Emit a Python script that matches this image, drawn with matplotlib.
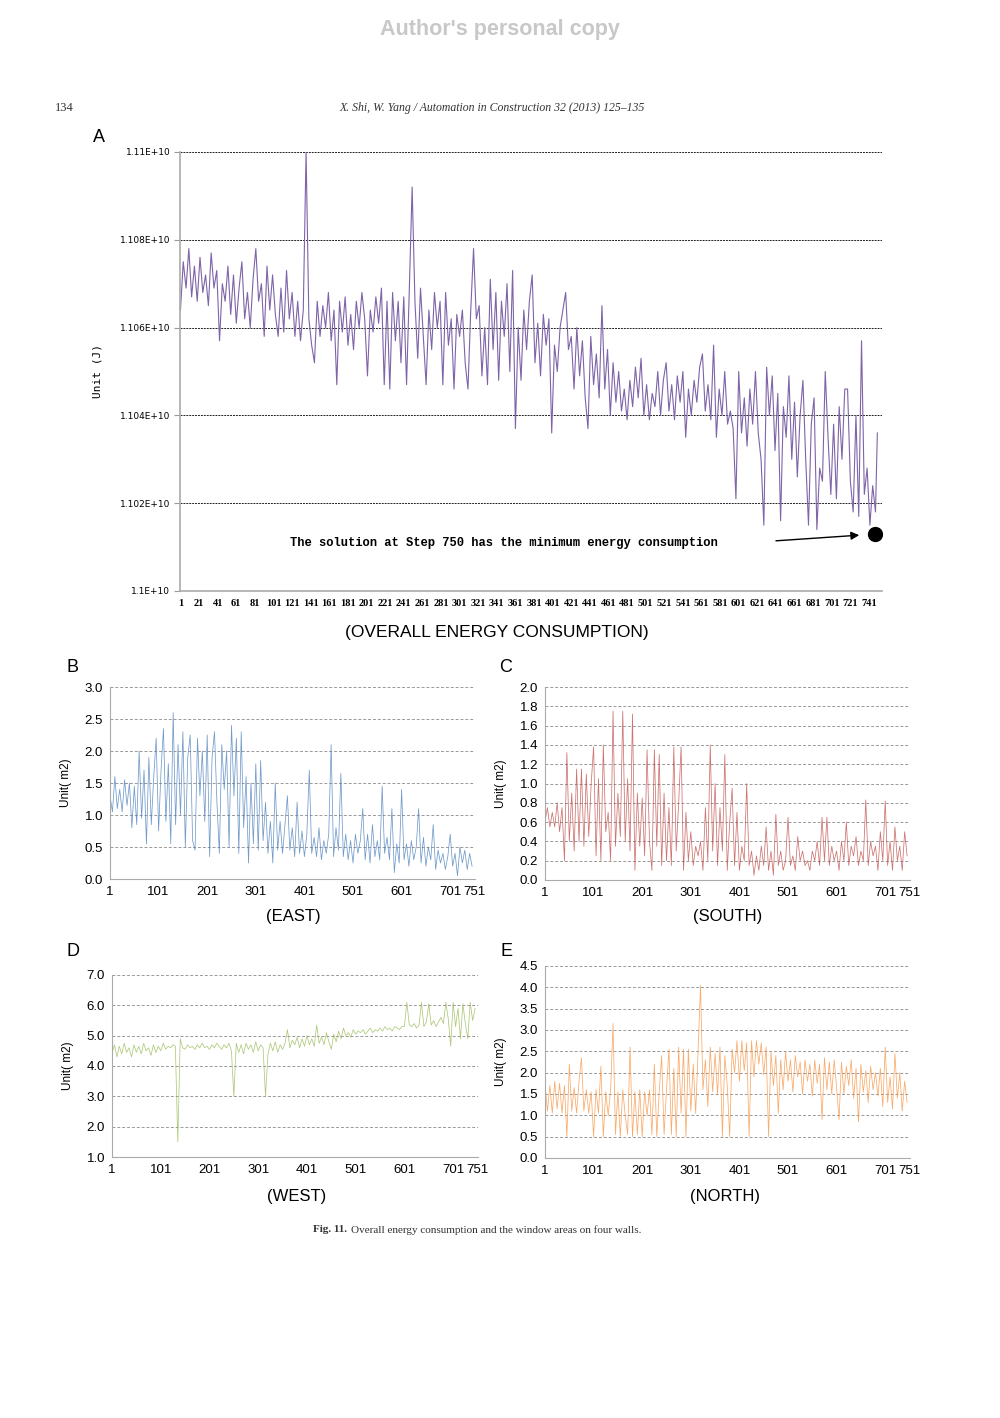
import matplotlib
matplotlib.use("Agg")
import matplotlib.pyplot as plt
import numpy as np
from matplotlib.ticker import FormatStrFormatter, FixedLocator

# ---- data ----
# overall energy consumption, in units of 1E+10 J, every 3rd step + step 750
energy_steps = list(range(1, 749, 3)) + [750]
energy = [
    1.1064, 1.1075, 1.1069, 1.1078, 1.1067, 1.1074, 1.1066, 1.1076, 1.1068, 1.1072, 1.1065, 1.1077, 1.1069, 1.1073,
    1.1057, 1.1070, 1.1066, 1.1074, 1.1063, 1.1072, 1.1061, 1.1069, 1.1075, 1.1062, 1.1068, 1.1060, 1.1071,
    1.1078, 1.1066, 1.1070, 1.1058, 1.1074, 1.1064, 1.1072, 1.1063, 1.1058, 1.1069, 1.1059, 1.1073, 1.1062,
    1.1068, 1.1058, 1.1066, 1.1057, 1.1064, 1.1100, 1.1062, 1.1056, 1.1052, 1.1066, 1.1058, 1.1065, 1.1060,
    1.1068, 1.1057, 1.1064, 1.1047, 1.1066, 1.1059, 1.1067, 1.1056, 1.1063, 1.1055, 1.1066, 1.1060, 1.1068,
    1.1062, 1.1049, 1.1064, 1.1059, 1.1067, 1.1061, 1.1069, 1.1047, 1.1066, 1.1046, 1.1068, 1.1057, 1.1066,
    1.1052, 1.1067, 1.1047, 1.1069, 1.1092, 1.1066, 1.1053, 1.1069, 1.1058, 1.1047, 1.1064, 1.1055, 1.1068,
    1.1060, 1.1066, 1.1047, 1.1068, 1.1056, 1.1062, 1.1046, 1.1063, 1.1058, 1.1064, 1.1052, 1.1046, 1.1064,
    1.1078, 1.1062, 1.1065, 1.1049, 1.1060, 1.1047, 1.1071, 1.1055, 1.1068, 1.1048, 1.1066, 1.1058, 1.1070,
    1.1050, 1.1073, 1.1037, 1.1060, 1.1048, 1.1064, 1.1055, 1.1066, 1.1072, 1.1052, 1.1061, 1.1049, 1.1063,
    1.1056, 1.1062, 1.1036, 1.1056, 1.1050, 1.1060, 1.1064, 1.1068, 1.1055, 1.1058, 1.1046, 1.1060, 1.1049,
    1.1057, 1.1044, 1.1037, 1.1058, 1.1047, 1.1054, 1.1044, 1.1065, 1.1046, 1.1055, 1.1040, 1.1052, 1.1043,
    1.1050, 1.1041, 1.1046, 1.1039, 1.1048, 1.1042, 1.1051, 1.1044, 1.1053, 1.1040, 1.1047, 1.1039, 1.1045,
    1.1042, 1.1050, 1.1040, 1.1048, 1.1052, 1.1041, 1.1047, 1.1039, 1.1049, 1.1043, 1.1050, 1.1035, 1.1046,
    1.1040, 1.1048, 1.1043, 1.1051, 1.1054, 1.1041, 1.1047, 1.1039, 1.1056, 1.1035, 1.1046, 1.1040, 1.1050,
    1.1038, 1.1041, 1.1037, 1.1021, 1.1050, 1.1036, 1.1044, 1.1033, 1.1046, 1.1038, 1.1050, 1.1036, 1.1030,
    1.1015, 1.1051, 1.1040, 1.1049, 1.1032, 1.1045, 1.1016, 1.1042, 1.1035, 1.1049, 1.1030, 1.1043, 1.1026,
    1.1040, 1.1048, 1.1030, 1.1015, 1.1038, 1.1044, 1.1014, 1.1028, 1.1025, 1.1050, 1.1035, 1.1022, 1.1038,
    1.1021, 1.1042, 1.1030, 1.1046, 1.1046, 1.1025, 1.1018, 1.1040, 1.1017, 1.1057, 1.1022, 1.1028, 1.1015,
    1.1024, 1.1018, 1.1036,
]
min_step = 747
min_energy = 1.1013

# window areas (m2), every 5th step
wall_steps = list(range(1, 750, 5))
east = [
    1.30, 1.05, 1.60, 1.10, 1.40, 1.05, 1.55, 1.15, 1.50, 0.80,
    1.45, 0.85, 2.00, 0.95, 1.70, 0.55, 1.90, 0.85, 1.60, 2.20,
    0.75, 1.70, 2.35, 0.90, 1.80, 0.55, 2.60, 0.85, 2.10, 1.00,
    2.30, 0.50, 1.90, 2.25, 0.60, 0.45, 2.20, 1.30, 2.00, 0.90,
    2.25, 0.35, 1.90, 2.30, 1.20, 0.40, 2.10, 1.40, 2.00, 0.50,
    2.40, 1.30, 2.20, 0.40, 2.30, 0.80, 1.60, 0.25, 1.50, 0.55,
    1.80, 0.45, 1.85, 0.60, 1.20, 0.40, 0.90, 0.25, 1.50, 0.45,
    0.90, 0.40, 0.85, 1.30, 0.45, 0.80, 0.35, 1.20, 0.40, 0.75,
    0.35, 0.70, 1.70, 0.40, 0.65, 0.35, 0.80, 0.30, 0.60, 0.40,
    0.70, 2.10, 0.35, 0.80, 0.45, 1.65, 0.35, 0.70, 0.30, 0.60,
    0.25, 0.70, 0.40, 0.60, 1.10, 0.30, 0.70, 0.25, 0.85, 0.35,
    0.60, 0.30, 1.45, 0.40, 0.65, 0.30, 1.10, 0.10, 0.55, 0.25,
    1.40, 0.30, 0.55, 0.20, 0.60, 0.30, 0.50, 1.10, 0.25, 0.65,
    0.20, 0.50, 0.30, 0.85, 0.15, 0.45, 0.25, 0.40, 0.15, 0.35,
    0.70, 0.20, 0.40, 0.05, 0.50, 0.25, 0.45, 0.15, 0.40, 0.20,
]
south = [
    0.60, 0.75, 0.55, 0.70, 0.55, 0.80, 0.50, 0.75, 0.20, 1.32,
    0.40, 0.90, 0.30, 1.15, 0.40, 1.15, 0.35, 1.10, 0.45, 1.00,
    1.38, 0.25, 1.05, 0.20, 1.40, 0.50, 0.70, 0.20, 1.75, 0.35,
    0.90, 0.45, 1.75, 0.40, 1.05, 0.30, 1.72, 0.10, 0.90, 0.35,
    0.85, 0.25, 1.35, 0.40, 0.10, 1.35, 0.35, 1.30, 0.15, 0.90,
    0.20, 0.75, 0.15, 1.38, 0.30, 0.80, 1.38, 0.10, 0.70, 0.20,
    0.50, 0.15, 0.35, 0.25, 0.40, 0.10, 0.75, 0.20, 1.40, 0.30,
    1.00, 0.15, 0.75, 0.30, 1.30, 0.10, 0.60, 0.95, 0.15, 0.70,
    0.10, 0.35, 0.20, 1.00, 0.15, 0.30, 0.05, 0.25, 0.10, 0.35,
    0.15, 0.55, 0.10, 0.30, 0.05, 0.68, 0.15, 0.30, 0.10, 0.20,
    0.65, 0.15, 0.25, 0.10, 0.45, 0.20, 0.30, 0.15, 0.20, 0.10,
    0.30, 0.20, 0.40, 0.15, 0.65, 0.20, 0.65, 0.15, 0.35, 0.20,
    0.30, 0.10, 0.40, 0.20, 0.60, 0.15, 0.35, 0.25, 0.45, 0.15,
    0.30, 0.20, 0.83, 0.15, 0.40, 0.25, 0.35, 0.10, 0.50, 0.20,
    0.82, 0.15, 0.40, 0.10, 0.55, 0.20, 0.35, 0.10, 0.50, 0.25,
]
west = [
    4.40, 4.70, 4.30, 4.65, 4.40, 4.75, 4.45, 4.60, 4.30, 4.70,
    4.45, 4.65, 4.40, 4.75, 4.50, 4.60, 4.35, 4.70, 4.45, 4.65,
    4.50, 4.75, 4.55, 4.65, 4.60, 4.70, 4.65, 1.50, 4.90, 4.60,
    4.55, 4.70, 4.60, 4.65, 4.55, 4.70, 4.60, 4.75, 4.60, 4.65,
    4.55, 4.70, 4.60, 4.75, 4.65, 4.55, 4.70, 4.60, 4.75, 4.50,
    3.00, 4.75, 4.45, 4.70, 4.40, 4.75, 4.55, 4.70, 4.45, 4.80,
    4.50, 4.70, 4.60, 3.00, 4.40, 4.75, 4.50, 4.80, 4.45, 4.70,
    4.55, 4.75, 5.20, 4.60, 4.85, 4.70, 4.95, 4.60, 4.90, 4.65,
    5.00, 4.70, 4.90, 4.65, 5.35, 4.75, 4.95, 4.70, 5.10, 4.80,
    4.55, 5.05, 4.80, 5.15, 4.90, 5.25, 5.00, 5.10, 4.95, 5.20,
    5.05, 5.15, 5.10, 5.20, 5.05, 5.15, 5.25, 5.10, 5.20, 5.15,
    5.25, 5.15, 5.30, 5.20, 5.25, 5.15, 5.30, 5.25, 5.20, 5.30,
    5.30, 6.10, 5.35, 5.30, 5.40, 5.25, 5.35, 6.10, 5.30, 5.45,
    6.05, 5.35, 5.50, 5.30, 5.45, 5.60, 5.40, 6.10, 5.55, 4.65,
    6.10, 5.30, 5.90, 4.90, 6.05, 5.40, 4.90, 6.10, 5.50, 5.90,
]
north = [
    1.75, 1.10, 1.70, 1.05, 1.80, 1.15, 1.75, 1.05, 1.70, 0.50,
    2.20, 1.10, 1.65, 1.05, 1.80, 2.35, 1.10, 1.60, 1.05, 1.55,
    0.50, 1.60, 1.05, 2.15, 0.50, 1.55, 1.00, 1.60, 3.15, 0.55,
    1.55, 0.50, 1.60, 1.00, 0.55, 2.60, 0.50, 1.55, 0.55, 1.60,
    0.50, 1.55, 1.00, 1.60, 0.55, 2.20, 0.50, 1.55, 2.40, 0.55,
    1.60, 2.55, 0.55, 2.10, 0.50, 2.60, 1.05, 2.55, 0.50, 2.55,
    1.10, 2.20, 1.05, 2.50, 4.05, 1.60, 2.30, 1.20, 2.60, 1.55,
    2.45, 1.50, 2.60, 0.50, 2.40, 1.70, 0.50, 2.55, 2.00, 2.75,
    1.80, 2.75, 2.05, 2.70, 0.50, 2.75, 1.90, 2.75, 2.20, 2.70,
    1.95, 2.60, 0.50, 2.50, 1.70, 2.40, 1.05, 2.30, 1.60, 2.50,
    1.80, 2.30, 1.55, 2.40, 1.90, 2.25, 1.50, 2.30, 1.80, 2.20,
    1.45, 2.30, 1.75, 2.20, 0.90, 2.35, 1.60, 2.25, 1.50, 2.30,
    1.65, 0.90, 2.25, 1.50, 2.15, 1.70, 2.30, 1.40, 2.10, 0.85,
    2.20, 1.55, 2.05, 1.30, 2.15, 1.60, 2.00, 1.45, 2.10, 1.20,
    2.60, 1.30, 1.90, 1.15, 2.45, 1.40, 2.00, 1.10, 1.80, 1.30,
]

energy_yticks = [1.100, 1.102, 1.104, 1.106, 1.108, 1.110]
energy_ylabels = ["1.1E+10", "1.102E+10", "1.104E+10", "1.106E+10", "1.108E+10", "1.11E+10"]
energy_xticks = list(range(1, 742, 20))
wall_xticks = [1, 101, 201, 301, 401, 501, 601, 701, 751]

W, H = 1000, 1418
fig = plt.figure(figsize=(W / 100, H / 100), dpi=100)


def px(x, y):
    return x / W, 1 - y / H


def axes_at(l, t, r, b):
    return fig.add_axes([l / W, 1 - b / H, (r - l) / W, (b - t) / H])


# ---- page header / caption ----
fig.text(*px(500, 30), "Author's personal copy", ha="center", va="center",
         fontsize=15.5, fontweight="bold", color="#c8c8c8", family="Liberation Sans")
fig.text(*px(55, 108), "134", ha="left", va="center", fontsize=9,
         family="Liberation Serif", color="#333")
fig.text(*px(492, 108), "X. Shi, W. Yang / Automation in Construction 32 (2013) 125\u2013135",
         ha="center", va="center", fontsize=8.5, style="italic",
         family="Liberation Serif", color="#333")
fig.text(*px(347, 1230), "Fig. 11.", ha="right", va="center", fontsize=8,
         fontweight="bold", family="Liberation Serif", color="#333")
fig.text(*px(351, 1230), "Overall energy consumption and the window areas on four walls.",
         ha="left", va="center", fontsize=8, family="Liberation Serif", color="#333")

# ---- panel A ----
axA = axes_at(180, 152, 882, 591)
axA.plot(energy_steps, np.array(energy) * 1e10, color="#7e64a8", lw=0.8)
axA.plot([min_step], [min_energy * 1e10], "o", color="black", ms=10)
axA.set_xlim(0.5, 755)
axA.set_ylim(1.100e10, 1.110e10)
axA.yaxis.set_major_locator(FixedLocator([v * 1e10 for v in energy_yticks]))
axA.set_yticklabels(energy_ylabels, fontsize=6.5, family="DejaVu Sans")
axA.set_xticks(energy_xticks)
axA.set_xticklabels([str(s) for s in energy_xticks], fontsize=7.5,
                    family="Liberation Serif", fontweight="bold")
axA.tick_params(axis="x", length=0, pad=6)
axA.tick_params(axis="y", length=4, color="#999", pad=3)
for v in energy_yticks[1:]:
    axA.axhline(v * 1e10, color="#222", lw=0.7, ls=(0, (2, 1)), zorder=0)
for s in ["top", "right"]:
    axA.spines[s].set_visible(False)
for s in ["left", "bottom"]:
    axA.spines[s].set_color("#aaa")
    axA.spines[s].set_linewidth(1.2)
axA.set_ylabel("Unit (J)", family="DejaVu Sans Mono", fontsize=8)
axA.yaxis.set_label_coords(-0.11, 0.5)
axA.text(0.461, 0.109, "The solution at Step 750 has the minimum energy consumption",
         transform=axA.transAxes, ha="center", va="center", fontsize=8.7,
         family="Liberation Mono", fontweight="bold")
axA.annotate("", xy=(0.9715, 0.1276), xytext=(0.845, 0.1139),
             xycoords="axes fraction",
             arrowprops=dict(arrowstyle="-|>", color="black", lw=1, mutation_scale=12))
fig.text(*px(99, 138), "A", ha="center", va="center", fontsize=13, family="Liberation Sans")
fig.text(*px(497, 632), "(OVERALL ENERGY CONSUMPTION)", ha="center", va="center",
         fontsize=12.5, family="Liberation Sans")

# ---- wall panels ----
panels = [
    ("B", "(EAST)", east, "#4f81bd", (110, 687, 475, 879), (0.0, 3.0), 0.5, (73, 667), (293, 916)),
    ("C", "(SOUTH)", south, "#c0504d", (545, 687, 910, 880), (0.0, 2.0), 0.2, (506, 667), (728, 916)),
    ("D", "(WEST)", west, "#9bbb59", (112, 975, 478, 1157), (1.0, 7.0), 1.0, (73, 951), (297, 1197)),
    ("E", "(NORTH)", north, "#f79646", (545, 966, 910, 1158), (0.0, 4.5), 0.5, (506, 951), (725, 1197)),
]

for letter, title, values, color, box, ylim, step, lpos, tpos in panels:
    ax = axes_at(*box)
    ax.plot(wall_steps, values, color=color, lw=0.55, alpha=0.8)
    ax.set_xlim(1, 752)
    ax.set_ylim(*ylim)
    ax.set_yticks(np.arange(ylim[0], ylim[1] + step / 2, step))
    ax.yaxis.set_major_formatter(FormatStrFormatter("%.1f"))
    ax.set_xticks(wall_xticks)
    ax.tick_params(length=0, labelsize=9.5, pad=5)
    for lab in ax.get_xticklabels() + ax.get_yticklabels():
        lab.set_family("Liberation Sans")
    ax.grid(axis="y", color="#999", lw=0.7, ls=(0, (3, 2)))
    ax.set_axisbelow(True)
    for s in ["top", "right"]:
        ax.spines[s].set_visible(False)
    for s in ["left", "bottom"]:
        ax.spines[s].set_color("#aaa")
    ax.set_ylabel("Unit( m2)", fontsize=8.5, family="Liberation Sans")
    ax.yaxis.set_label_coords(-0.105, 0.5)
    fig.text(*px(*lpos), letter, ha="center", va="center", fontsize=13, family="Liberation Sans")
    fig.text(*px(*tpos), title, ha="center", va="center", fontsize=12, family="Liberation Sans")

fig.savefig("out.png", dpi=100)
